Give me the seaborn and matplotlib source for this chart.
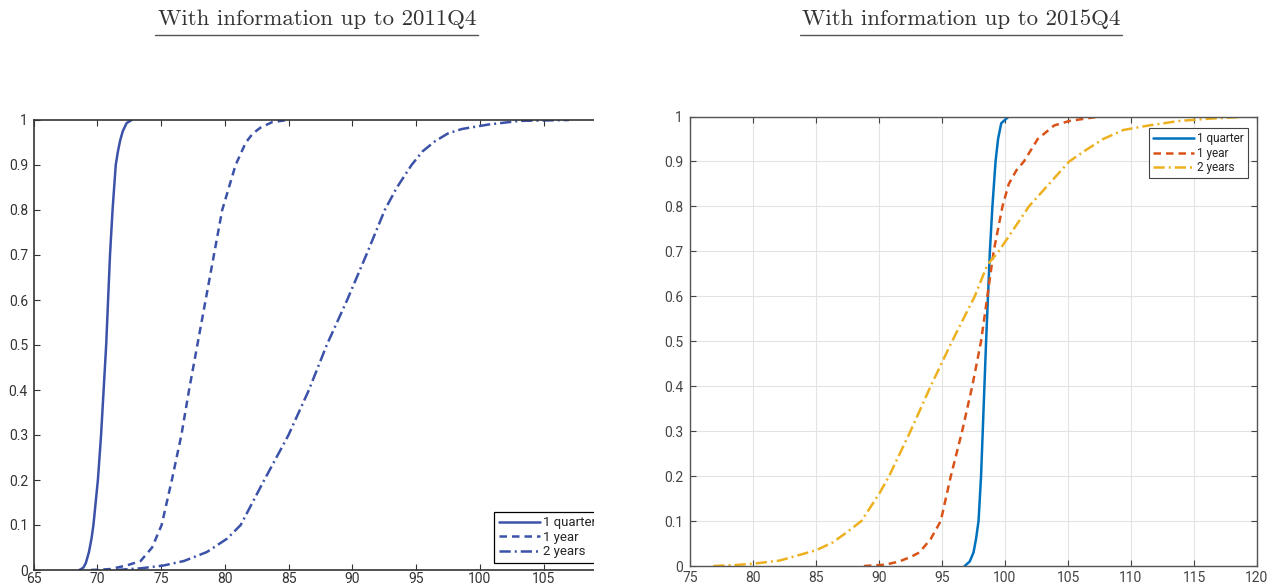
import numpy as np
import pandas as pd
import matplotlib
matplotlib.use("Agg")
import matplotlib.pyplot as plt
import seaborn as sns
from matplotlib.lines import Line2D
from matplotlib.patches import Rectangle

# ---- data: CDFs of forecast distributions ----
horizons = ["1 quarter", "1 year", "2 years"]

# information up to 2011Q4
q1_2011_x = [68.6, 68.9, 69.1, 69.35, 69.55, 69.7, 70.05, 70.3, 70.5, 70.7, 70.85, 71.0, 71.2, 71.45, 71.62, 71.8, 72.0, 72.3, 72.7]
q1_2011_y = [0, 0.005, 0.015, 0.04, 0.07, 0.1, 0.2, 0.3, 0.4, 0.5, 0.6, 0.7, 0.8, 0.9, 0.93, 0.955, 0.975, 0.993, 1.0]
y1_2011_x = [69.5, 71.0, 72.3, 73.4, 74.3, 75.05, 75.85, 76.6, 77.2, 77.85, 78.5, 79.15, 79.8, 80.85, 81.65, 82.2, 82.8, 83.7, 84.9]
y1_2011_y = [0, 0.002, 0.01, 0.02, 0.05, 0.1, 0.2, 0.3, 0.4, 0.5, 0.6, 0.7, 0.8, 0.9, 0.95, 0.97, 0.983, 0.995, 1.0]
y2_2011_x = [71.5, 73.5, 75.2, 76.8, 78.6, 80.2, 81.25, 83.1, 85.0, 86.6, 88.0, 89.6, 91.1, 92.55, 93.5, 94.65, 95.5, 96.5, 97.5, 98.6, 100.7, 103.1, 107.0]
y2_2011_y = [0, 0.004, 0.01, 0.02, 0.04, 0.07, 0.1, 0.2, 0.3, 0.4, 0.5, 0.6, 0.7, 0.8, 0.85, 0.9, 0.93, 0.953, 0.97, 0.98, 0.99, 0.998, 1.0]

# information up to 2015Q4
q1_2015_x = [96.8, 97.2, 97.5, 97.7, 97.9, 98.1, 98.3, 98.5, 98.65, 98.8, 99.0, 99.25, 99.45, 99.7, 100.3]
q1_2015_y = [0, 0.01, 0.03, 0.06, 0.1, 0.2, 0.35, 0.5, 0.6, 0.7, 0.8, 0.9, 0.95, 0.985, 1.0]
y1_2015_x = [88.8, 90.5, 91.6, 92.5, 93.2, 94.1, 94.9, 95.7, 96.6, 97.4, 98.1, 98.6, 99.1, 99.8, 100.3, 100.9, 101.5, 102.6, 103.9, 105.1, 107.5]
y1_2015_y = [0, 0.003, 0.01, 0.02, 0.03, 0.06, 0.1, 0.2, 0.3, 0.4, 0.5, 0.6, 0.7, 0.8, 0.85, 0.88, 0.9, 0.95, 0.98, 0.99, 1.0]
y2_2015_x = [76.85, 78.5, 80.0, 82.1, 85.0, 86.3, 87.4, 88.6, 90.0, 90.8, 92.5, 94.1, 95.8, 97.6, 98.6, 99.5, 100.7, 101.9, 103.5, 105.1, 106.4, 107.8, 109.4, 111.4, 113.8, 116.1, 119.5]
y2_2015_y = [0, 0.002, 0.005, 0.012, 0.035, 0.052, 0.074, 0.1, 0.16, 0.2, 0.3, 0.4, 0.5, 0.6, 0.67, 0.7, 0.75, 0.8, 0.85, 0.9, 0.925, 0.95, 0.97, 0.98, 0.99, 0.995, 1.0]

y_ticks = [0, 0.1, 0.2, 0.3, 0.4, 0.5, 0.6, 0.7, 0.8, 0.9, 1]
x_ticks_2011 = [65, 70, 75, 80, 85, 90, 95, 100, 105]
x_ticks_2015 = [75, 80, 85, 90, 95, 100, 105, 110, 115, 120]


def make_df(xs, ys):
    parts = []
    for name, x, y in zip(horizons, xs, ys):
        parts.append(pd.DataFrame({"value": x, "prob": y, "horizon": name}))
    return pd.concat(parts, ignore_index=True)


df_2011 = make_df([q1_2011_x, y1_2011_x, y2_2011_x], [q1_2011_y, y1_2011_y, y2_2011_y])
df_2015 = make_df([q1_2015_x, y1_2015_x, y2_2015_x], [q1_2015_y, y1_2015_y, y2_2015_y])

sns.set_style("ticks")
plt.rcParams["font.family"] = ["Roboto", "DejaVu Sans"]

W, H = 1268, 587
fig = plt.figure(figsize=(W / 100, H / 100), dpi=100)

ax1 = fig.add_axes([33.5 / W, (H - 570) / H, (594 - 33.5) / W, 450 / H])
ax2 = fig.add_axes([690 / W, (H - 566) / H, 567 / W, 449.5 / H])

dash_styles = ["", (3, 2), (4.5, 1.6, 0.8, 1.6)]

# left panel: one blue for all horizons
blue = "#3B52A8"
sns.lineplot(data=df_2011, x="value", y="prob", hue="horizon", style="horizon",
             palette=[blue] * 3, dashes=dash_styles, sort=False, estimator=None,
             linewidth=1.8, ax=ax1)

# right panel: matlab default colours
mat_cols = ["#0072BD", "#D95319", "#EDB120"]
sns.lineplot(data=df_2015, x="value", y="prob", hue="horizon", style="horizon",
             palette=mat_cols, dashes=dash_styles, sort=False, estimator=None,
             linewidth=1.8, ax=ax2)

lab_fmt = lambda v: ("%g" % v)

# left axes styling
ax1.set_xlim(65, 108.96)
ax1.set_ylim(0, 1)
ax1.set_xticks(x_ticks_2011)
ax1.set_xticklabels([lab_fmt(v) for v in x_ticks_2011])
ax1.set_yticks(y_ticks)
ax1.set_yticklabels([lab_fmt(v) for v in y_ticks])
ax1.set_xlabel("")
ax1.set_ylabel("")
for s in ["left", "bottom", "top"]:
    ax1.spines[s].set_color("#333333")
    ax1.spines[s].set_linewidth(1.2)
ax1.spines["right"].set_visible(False)
ax1.tick_params(direction="in", length=4, width=0.8, top=True, right=False,
                labelsize=10, colors="#333333")
ax1.tick_params(axis="x", pad=1.5)
ax1.tick_params(axis="y", pad=4)

leg1 = ax1.legend(loc="lower left", bbox_to_anchor=(0.8216, 0.0156), borderaxespad=0,
                  fontsize=9.5, frameon=True, fancybox=False, framealpha=1,
                  edgecolor="black", handlelength=3.1, labelspacing=0.12,
                  handletextpad=0.3, borderpad=0.35)
leg1.get_frame().set_linewidth(0.9)

# right axes styling
ax2.set_xlim(75, 120)
ax2.set_ylim(0, 1)
ax2.set_xticks(x_ticks_2015)
ax2.set_xticklabels([lab_fmt(v) for v in x_ticks_2015])
ax2.set_yticks(y_ticks)
ax2.set_yticklabels([lab_fmt(v) for v in y_ticks])
ax2.set_xlabel("")
ax2.set_ylabel("")
ax2.grid(True, color="#e3e3e3", linewidth=0.8)
ax2.set_axisbelow(True)
for s in ax2.spines.values():
    s.set_color("#555555")
    s.set_linewidth(1.0)
ax2.tick_params(direction="in", length=4, width=0.8, top=True, right=True,
                labelsize=10, colors="#444444")
ax2.tick_params(axis="x", pad=3.5)
ax2.tick_params(axis="y", pad=5)

leg2 = ax2.legend(loc="upper right", bbox_to_anchor=(0.984, 0.974), borderaxespad=0,
                  fontsize=8.5, frameon=True, fancybox=False, framealpha=1,
                  edgecolor="#444444", handlelength=3.4, labelspacing=0.12,
                  handletextpad=0.3, borderpad=0.35)
leg2.get_frame().set_linewidth(0.8)

# crop the left figure at its right edge like the source image
fig.add_artist(Rectangle((594 / W, 0), (640 - 594) / W, 1, transform=fig.transFigure,
                         facecolor="white", edgecolor="none", zorder=10))

# underlined serif titles
titles = [("With information up to 2011Q4", 317, 155, 478),
          ("With information up to 2015Q4", 961, 800, 1122)]
for txt, cx, x0, x1 in titles:
    fig.text(cx / W, 1 - 19 / H, txt, ha="center", va="center", fontsize=16.5,
             family=["cmr10", "DejaVu Serif"], color="#333333")
    fig.add_artist(Line2D([x0 / W, x1 / W], [1 - 35 / H, 1 - 35 / H],
                          transform=fig.transFigure, color="#555555", linewidth=1.0))

fig.savefig("out.png", dpi=100)
